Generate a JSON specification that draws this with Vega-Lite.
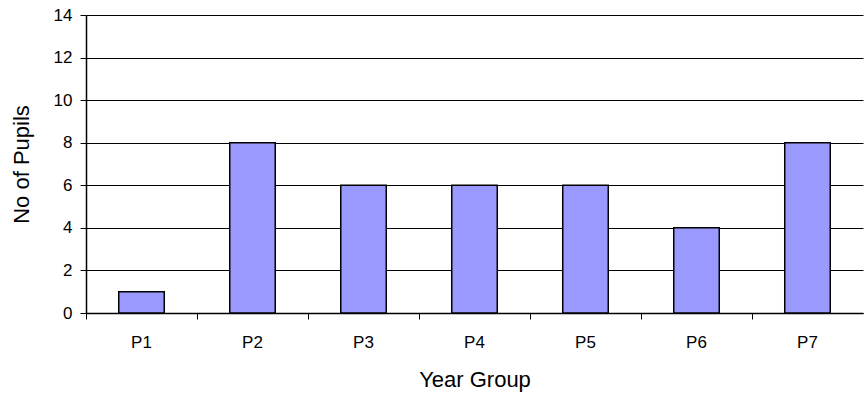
{
  "$schema": "https://vega.github.io/schema/vega-lite/v6.json",
  "autosize": {"type": "none"},
  "padding": {"left": 86, "top": 15, "right": 1, "bottom": 86},
  "width": 777,
  "height": 298,
  "background": "white",
  "data": {
    "values": [
      {"year": "P1", "pupils": 1},
      {"year": "P2", "pupils": 8},
      {"year": "P3", "pupils": 6},
      {"year": "P4", "pupils": 6},
      {"year": "P5", "pupils": 6},
      {"year": "P6", "pupils": 4},
      {"year": "P7", "pupils": 8}
    ]
  },
  "mark": {"type": "bar", "fill": "#9999FF", "stroke": "#000000", "strokeWidth": 1.5},
  "encoding": {
    "x": {
      "field": "year",
      "type": "nominal",
      "sort": null,
      "title": "Year Group",
      "scale": {"paddingInner": 0.59, "paddingOuter": 0.295},
      "axis": {
        "labelAngle": 0,
        "bandPosition": -0.7195,
        "tickSize": 6,
        "labelPadding": 15,
        "titlePadding": 19,
        "grid": false
      }
    },
    "y": {
      "field": "pupils",
      "type": "quantitative",
      "title": "No of Pupils",
      "scale": {"domain": [0, 14], "nice": false},
      "axis": {
        "values": [0, 2, 4, 6, 8, 10, 12, 14],
        "tickSize": 6,
        "labelPadding": 8,
        "titlePadding": 20,
        "grid": true
      }
    }
  },
  "config": {
    "view": {"stroke": null},
    "font": "Liberation Sans",
    "axis": {
      "domainColor": "#000000",
      "domainWidth": 1.5,
      "tickColor": "#000000",
      "gridColor": "#000000",
      "gridOpacity": 1,
      "labelColor": "#000000",
      "titleColor": "#000000",
      "labelFont": "Liberation Sans",
      "titleFont": "Liberation Sans",
      "labelFontSize": 17,
      "titleFontSize": 22,
      "titleFontWeight": "normal"
    }
  }
}
